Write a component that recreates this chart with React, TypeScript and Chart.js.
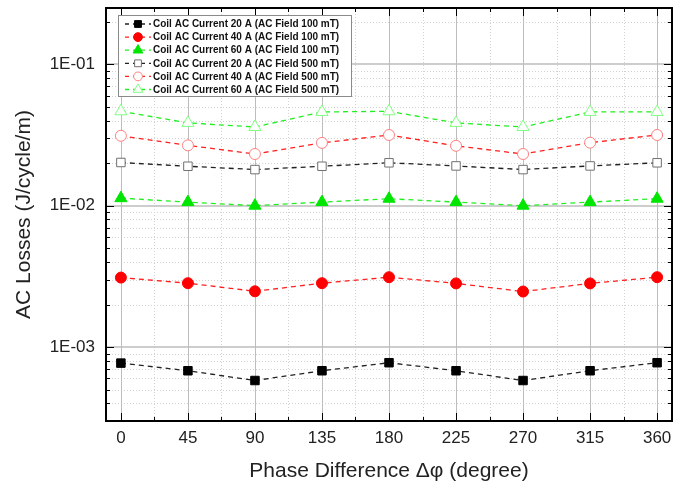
import React, { useEffect, useRef } from "react";
import { Chart, registerables } from "chart.js";

Chart.register(...registerables);

// ---- data ----
const phaseDeg = [0, 45, 90, 135, 180, 225, 270, 315, 360];
const xTickValues = [0, 45, 90, 135, 180, 225, 270, 315, 360];
const xMinorValues = [22.5, 67.5, 112.5, 157.5, 202.5, 247.5, 292.5, 337.5];
const yTickValues = [1e-3, 1e-2, 1e-1];
const yTickLabels = ["1E-03", "1E-02", "1E-01"];
const yMinorMultipliers = [2, 3, 4, 5, 6, 7, 8, 9];
const yDecades = [1e-4, 1e-3, 1e-2, 1e-1];

const seriesLabels = [
  "Coil AC Current 20 A (AC Field 100 mT)",
  "Coil AC Current 40 A (AC Field 100 mT)",
  "Coil AC Current 60 A (AC Field 100 mT)",
  "Coil AC Current 20 A (AC Field 500 mT)",
  "Coil AC Current 40 A (AC Field 500 mT)",
  "Coil AC Current 60 A (AC Field 500 mT)",
];

const loss20A100 = [7.7e-4, 6.8e-4, 5.8e-4, 6.8e-4, 7.75e-4, 6.8e-4, 5.8e-4, 6.8e-4, 7.75e-4];
const loss40A100 = [3.1e-3, 2.83e-3, 2.48e-3, 2.83e-3, 3.12e-3, 2.82e-3, 2.47e-3, 2.82e-3, 3.12e-3];
const loss60A100 = [1.13e-2, 1.06e-2, 1.0e-2, 1.06e-2, 1.12e-2, 1.06e-2, 1.0e-2, 1.06e-2, 1.12e-2];
const loss20A500 = [2.02e-2, 1.9e-2, 1.8e-2, 1.9e-2, 2.01e-2, 1.91e-2, 1.8e-2, 1.91e-2, 2.01e-2];
const loss40A500 = [3.12e-2, 2.67e-2, 2.32e-2, 2.78e-2, 3.16e-2, 2.65e-2, 2.32e-2, 2.79e-2, 3.16e-2];
const loss60A500 = [4.65e-2, 3.85e-2, 3.6e-2, 4.6e-2, 4.65e-2, 3.85e-2, 3.6e-2, 4.6e-2, 4.6e-2];

const FONT = "'Liberation Sans', Arial, sans-serif";

type Style = {
  line: string;
  fill: string;
  border: string;
  shape: "rect" | "circle" | "triangle";
  radius: number;
};

const styles: Style[] = [
  { line: "#222222", fill: "#000000", border: "#000000", shape: "rect", radius: 6 },
  { line: "#ff2020", fill: "#ff0000", border: "#ff0000", shape: "circle", radius: 5.5 },
  { line: "#22ee22", fill: "#00e600", border: "#00e600", shape: "triangle", radius: 7 },
  { line: "#222222", fill: "#ffffff", border: "#707070", shape: "rect", radius: 6 },
  { line: "#ff2020", fill: "#ffffff", border: "#ff8080", shape: "circle", radius: 5.5 },
  { line: "#22ee22", fill: "#ffffff", border: "#80ff80", shape: "triangle", radius: 7 },
];

const seriesValues = [loss20A100, loss40A100, loss60A100, loss20A500, loss40A500, loss60A500];

function drawMarker(ctx: CanvasRenderingContext2D, st: Style, x: number, y: number, r: number) {
  ctx.beginPath();
  if (st.shape === "rect") {
    const s = Math.SQRT1_2 * r;
    ctx.rect(x - s, y - s, 2 * s, 2 * s);
  } else if (st.shape === "circle") {
    ctx.arc(x, y, r, 0, Math.PI * 2);
  } else {
    const c = Math.cos(Math.PI / 6) * r;
    ctx.moveTo(x, y - r);
    ctx.lineTo(x + c, y + r / 2);
    ctx.lineTo(x - c, y + r / 2);
    ctx.closePath();
  }
  ctx.fillStyle = st.fill;
  ctx.fill();
  ctx.lineWidth = 1;
  ctx.strokeStyle = st.border;
  ctx.setLineDash([]);
  ctx.stroke();
}

const framePlugin = {
  id: "originFrame",
  beforeDatasetsDraw(chart: any) {
    const { ctx, chartArea } = chart;
    const { left, right, top, bottom } = chartArea;
    const xs = chart.scales.x;
    const ys = chart.scales.y;
    ctx.save();
    // minor dotted grid
    ctx.lineWidth = 1;
    ctx.strokeStyle = "#d2d2d2";
    ctx.setLineDash([1, 2]);
    for (const v of xMinorValues) {
      const px = Math.round(xs.getPixelForValue(v)) + 0.5;
      ctx.beginPath();
      ctx.moveTo(px, top);
      ctx.lineTo(px, bottom);
      ctx.stroke();
    }
    for (const d of yDecades) {
      for (const m of yMinorMultipliers) {
        const v = d * m;
        if (v < ys.min || v > ys.max) continue;
        const py = Math.round(ys.getPixelForValue(v)) + 0.5;
        ctx.beginPath();
        ctx.moveTo(left, py);
        ctx.lineTo(right, py);
        ctx.stroke();
      }
    }
    // major solid grid
    ctx.setLineDash([]);
    ctx.strokeStyle = "#bdbdbd";
    for (const v of xTickValues) {
      const px = Math.round(xs.getPixelForValue(v)) + 0.5;
      ctx.beginPath();
      ctx.moveTo(px, top);
      ctx.lineTo(px, bottom);
      ctx.stroke();
    }
    ctx.lineWidth = 1.5;
    for (const v of yTickValues) {
      const py = Math.round(ys.getPixelForValue(v));
      ctx.beginPath();
      ctx.moveTo(left, py);
      ctx.lineTo(right, py);
      ctx.stroke();
    }
    ctx.restore();
  },
  afterDatasetsDraw(chart: any) {
    const { ctx, chartArea } = chart;
    const { left, right, top, bottom } = chartArea;
    const xs = chart.scales.x;
    const ys = chart.scales.y;
    ctx.save();
    ctx.setLineDash([]);
    ctx.strokeStyle = "#000";
    ctx.lineWidth = 1;
    const major = 8;
    const minor = 4;
    // x ticks (bottom & top, inward)
    const xt = (v: number, len: number) => {
      const px = Math.round(xs.getPixelForValue(v)) + 0.5;
      ctx.beginPath();
      ctx.moveTo(px, bottom);
      ctx.lineTo(px, bottom - len);
      ctx.moveTo(px, top);
      ctx.lineTo(px, top + len);
      ctx.stroke();
    };
    xTickValues.forEach((v) => xt(v, major));
    xMinorValues.forEach((v) => xt(v, minor));
    // y ticks (left & right, inward)
    const yt = (v: number, len: number) => {
      const py = Math.round(ys.getPixelForValue(v)) + 0.5;
      ctx.beginPath();
      ctx.moveTo(left, py);
      ctx.lineTo(left + len, py);
      ctx.moveTo(right, py);
      ctx.lineTo(right - len, py);
      ctx.stroke();
    };
    yTickValues.forEach((v) => yt(v, major));
    for (const d of yDecades) {
      for (const m of yMinorMultipliers) {
        const v = d * m;
        if (v < ys.min || v > ys.max) continue;
        yt(v, minor);
      }
    }
    // frame
    ctx.lineWidth = 2;
    ctx.strokeRect(left, top, right - left, bottom - top);

    // legend
    const bx = 118, by = 15, bw = 233, bh = 81;
    ctx.fillStyle = "#ffffff";
    ctx.fillRect(bx, by, bw, bh);
    ctx.lineWidth = 1;
    ctx.strokeStyle = "#8a8a8a";
    ctx.strokeRect(bx + 0.5, by + 0.5, bw, bh);
    ctx.font = `bold 10px ${FONT}`;
    ctx.textBaseline = "middle";
    ctx.textAlign = "left";
    chart.data.datasets.forEach((ds: any, i: number) => {
      const st = styles[i];
      const cy = 24 + i * 13.1;
      ctx.strokeStyle = st.line;
      ctx.lineWidth = 1.3;
      ctx.setLineDash([4, 4]);
      ctx.beginPath();
      ctx.moveTo(125, cy);
      ctx.lineTo(151, cy);
      ctx.stroke();
      drawMarker(ctx, st, 138, cy, st.radius * 0.8);
      ctx.fillStyle = "#111";
      ctx.fillText(ds.label, 153, cy + 0.5);
    });
    ctx.restore();
  },
};

export default function App() {
  const ref = useRef<HTMLCanvasElement | null>(null);
  useEffect(() => {
    if (!ref.current) return;
    const datasets = seriesValues.map((vals, i) => {
      const st = styles[i];
      return {
        label: seriesLabels[i],
        data: phaseDeg.map((x, j) => ({ x, y: vals[j] })),
        borderColor: st.line,
        borderWidth: 1.3,
        borderDash: [5, 4],
        pointStyle: st.shape,
        pointRadius: st.radius,
        pointBackgroundColor: st.fill,
        pointBorderColor: st.border,
        pointBorderWidth: 1,
        fill: false,
        tension: 0,
      };
    });
    const chart = new Chart(ref.current, {
      type: "line",
      data: { datasets },
      options: {
        animation: false,
        responsive: false,
        devicePixelRatio: 1,
        layout: { padding: { top: 5, right: 22, left: 0, bottom: 0 } },
        plugins: { legend: { display: false }, tooltip: { enabled: false } },
        scales: {
          x: {
            type: "linear",
            min: -10,
            max: 370,
            afterBuildTicks: (s: any) => {
              s.ticks = xTickValues.map((v) => ({ value: v }));
            },
            afterFit: (s: any) => {
              s.height = 68;
              s.paddingLeft = 0;
              s.paddingRight = 0;
            },
            grid: { display: false, drawTicks: false },
            border: { display: false },
            ticks: {
              padding: 7,
              color: "#222",
              font: { family: FONT, size: 17 },
              maxRotation: 0,
              autoSkip: false,
              callback: (v: any) => String(v),
            },
            title: {
              display: true,
              text: "Phase Difference Δφ (degree)",
              color: "#222",
              font: { family: FONT, size: 21 },
              padding: { top: 0, bottom: 5 },
            },
          },
          y: {
            type: "logarithmic",
            min: 3e-4,
            max: 0.25,
            afterBuildTicks: (s: any) => {
              s.ticks = yTickValues.map((v) => ({ value: v, major: true }));
            },
            afterFit: (s: any) => {
              s.width = 106;
              s.paddingTop = 0;
              s.paddingBottom = 0;
            },
            grid: { display: false, drawTicks: false },
            border: { display: false },
            ticks: {
              padding: 11,
              color: "#222",
              font: { family: FONT, size: 17 },
              autoSkip: false,
              callback: (v: any) => {
                const idx = yTickValues.findIndex((t) => Math.abs(t - v) / t < 1e-6);
                return idx >= 0 ? yTickLabels[idx] : "";
              },
            },
            title: {
              display: true,
              text: "AC Losses (J/cycle/m)",
              color: "#222",
              font: { family: FONT, size: 21 },
              padding: { top: 12, bottom: 0 },
            },
          },
        },
      },
      plugins: [framePlugin],
    } as any);
    return () => chart.destroy();
  }, []);
  return (
    <canvas
      ref={ref}
      width={694}
      height={489}
      style={{ position: "absolute", left: 0, top: 0, width: 694, height: 489, background: "#fff" }}
    />
  );
}
